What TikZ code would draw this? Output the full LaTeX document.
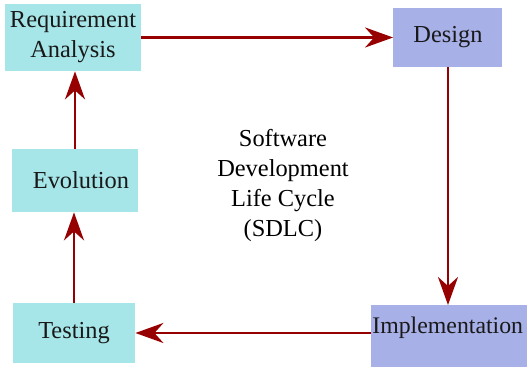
\documentclass[tikz,border=0pt]{standalone}
\usepackage{fontspec}
\setmainfont{Liberation Serif}
\usetikzlibrary{arrows.meta}
\definecolor{boxcyan}{RGB}{166,230,232}
\definecolor{boxblue}{RGB}{168,176,232}
\definecolor{arrowred}{RGB}{150,0,0}
\tikzset{
  phase/.style={fill=#1,draw=none,inner sep=2pt,align=center,
    font=\fontsize{12.2}{15}\selectfont,text=black!90},
  flow/.style={draw=arrowred,line width=1.3pt,
    -{Stealth[length=14pt,width=10pt,inset=4.5pt]}}
}
\begin{document}
\begin{tikzpicture}[x=0.5pt,y=-0.5pt]
\useasboundingbox (0,0) rectangle (527,367);
\clip (0,0) rectangle (527,367);
\node[phase=boxcyan,minimum width=68pt,minimum height=33.5pt] (req) at (73,37.5) {Requirement\\Analysis};
\node[phase=boxblue,minimum width=54.5pt,minimum height=29.5pt] (design) at (448,37.5) {Design};
\node[phase=boxblue,anchor=north west,inner xsep=0.5pt,inner ysep=4pt,
  font=\fontsize{11.9}{15}\selectfont,
  text height=10pt,text depth=15pt] (impl) at (371,305) {Implementation\hspace{12pt}};
\node[phase=boxcyan,minimum width=61pt,minimum height=30pt] (test) at (74,333) {Testing};
\node[phase=boxcyan,minimum width=63pt,minimum height=31.5pt] (evol) at (75,180.5) {\hspace{6pt}Evolution};
\node[font=\fontsize{12.2}{15}\selectfont,align=center] (sdlc) at (283,186) {Software\\Development\\Life Cycle\\(SDLC)};
% the cycle
\draw[flow] (req.east) -- (design.west |- req.east);
\draw[flow] (design.south) -- (design.south |- impl.north);
\draw[flow] (impl.west |- test.east) -- (test.east);
\draw[flow] (test.north) -- (test.north |- evol.south);
\draw[flow] (evol.north) -- (evol.north |- req.south);
\end{tikzpicture}
\end{document}
